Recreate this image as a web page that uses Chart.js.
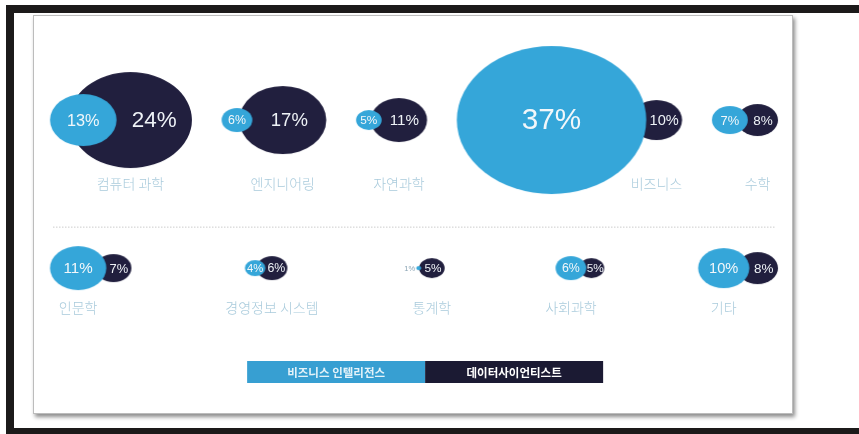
<!DOCTYPE html>
<html>
<head>
<meta charset="utf-8">
<script src="https://cdn.jsdelivr.net/npm/chart.js@4.4.1/dist/chart.umd.min.js"></script>
<style>
  html, body { margin: 0; background: #fff; }
  .bar { position: absolute; background: #1c1a1a; }
  #card {
    position: absolute; left: 33px; top: 15px; width: 760px; height: 399px;
    box-sizing: border-box; border: 1px solid #bcbcbc; background: #fff;
    box-shadow: 2px 3px 4px rgba(0,0,0,0.45);
  }
  #chart { position: absolute; left: 0; top: 0; }
</style>
</head>
<body>
<div class="bar" style="left:6px;top:5px;width:853px;height:8px"></div>
<div class="bar" style="left:6px;top:5px;width:8px;height:429px"></div>
<div class="bar" style="left:6px;top:428px;width:853px;height:6px"></div>
<div id="card"><canvas id="chart" width="758" height="397"></canvas></div>
<script>
// data
const categories = ["컴퓨터 과학", "엔지니어링", "자연과학", "비즈니스", "수학",
                    "인문학", "경영정보 시스템", "통계학", "사회과학", "기타"];
const rowOf = [0, 0, 0, 0, 0, 1, 1, 1, 1, 1];
const biValues = [13, 6, 5, 37, 7, 11, 4, 1, 6, 10];   // 비즈니스 인텔리전스
const dsValues = [24, 17, 11, 10, 8, 7, 6, 5, 5, 8];   // 데이터사이언티스트
const seriesNames = ["비즈니스 인텔리전스", "데이터사이언티스트"];

// look
const BI_COLOR = "#35a6d9";
const DS_COLOR = "#211f3e";
const LABEL_COLOR = "#a9cbdc";
const PCT_FONT = '"Liberation Sans", Arial, sans-serif';
const KR_FONT = '"Noto Sans CJK KR", sans-serif';
const LABEL_FONT = "300 14px " + KR_FONT;
const W = 758, H = 397;
const K = 2.0;          // px of vertical radius per percent
const ASPECT = 1.28;    // the bubbles are drawn a bit wider than tall
const ROW_LEFT = 16, ROW_RIGHT = 744;

const ry = v => v * K;
const rx = v => v * K * ASPECT;

// label offset below each row centre
const labelOffset = [0, 1].map(row => {
  const rs = [];
  categories.forEach((c, i) => { if (rowOf[i] === row) rs.push(ry(biValues[i]), ry(dsValues[i])); });
  rs.sort((a, b) => b - a);
  const top = rs[0] > 1.4 * rs[1] ? rs[1] : rs[0];
  return top * 0.9 + 20;
});

// the name goes under the larger bubble, unless that one reaches the name line
function labelUnderLight(i) {
  const b = ry(biValues[i]), d = ry(dsValues[i]);
  const tooTall = Math.max(b, d) > labelOffset[rowOf[i]] - 8;
  return (b >= d) !== tooTall;
}

const measure = document.createElement("canvas").getContext("2d");
measure.font = LABEL_FONT;

// pair geometry relative to the light bubble centre; dark one shifted right
function pairGeom(i) {
  const rxL = rx(biValues[i]), rxD = rx(dsValues[i]);
  const small = Math.min(rxL, rxD);
  const p = rxD > 1.3 * rxL ? Math.min(1.15 * small, 19) : 1.4 * small;
  const off = Math.abs(rxL - rxD) + p;
  const lx = labelUnderLight(i) ? 0 : off;
  const lw = measure.measureText(categories[i]).width / 2;
  return {
    off,
    left: Math.min(-rxL, off - rxD, lx - lw),
    right: Math.max(rxL, off + rxD, lx + lw)
  };
}

// pack each row with equal gaps
const biX = [], dsX = [];
[0, 1].forEach(row => {
  const idx = categories.map((c, i) => i).filter(i => rowOf[i] === row);
  const geoms = idx.map(pairGeom);
  const total = geoms.reduce((s, g) => s + g.right - g.left, 0);
  const gap = (ROW_RIGHT - ROW_LEFT - total) / (idx.length - 1);
  let cursor = ROW_LEFT;
  idx.forEach((i, k) => {
    const g = geoms[k];
    biX[i] = cursor - g.left;
    dsX[i] = biX[i] + g.off;
    cursor += g.right - g.left + gap;
  });
});

const biPoints = categories.map((c, i) => ({ x: biX[i], y: rowOf[i], r: ry(biValues[i]) }));
const dsPoints = categories.map((c, i) => ({ x: dsX[i], y: rowOf[i], r: ry(dsValues[i]) }));

const ellipseCache = {};
function ellipseStyle(ctx, color) {
  const p = ctx.raw;
  if (!p) return "circle";
  const key = color + p.r;
  if (!ellipseCache[key]) {
    const a = p.r * ASPECT, b = p.r;
    const c = document.createElement("canvas");
    c.width = Math.ceil(a * 2) + 2;
    c.height = Math.ceil(b * 2) + 2;
    const g = c.getContext("2d");
    g.fillStyle = color;
    g.beginPath();
    g.ellipse(c.width / 2, c.height / 2, a, b, 0, 0, Math.PI * 2);
    g.fill();
    ellipseCache[key] = c;
  }
  return ellipseCache[key];
}

const textPlugin = {
  id: "bubbleText",
  beforeDatasetsDraw(chart) {
    const ctx = chart.ctx;
    const y = chart.scales.y.getPixelForValue(0.72);
    ctx.save();
    ctx.strokeStyle = "#cdcdcd";
    ctx.lineWidth = 1;
    ctx.setLineDash([1.5, 1.5]);
    ctx.beginPath();
    ctx.moveTo(19, y + 0.5);
    ctx.lineTo(742, y + 0.5);
    ctx.stroke();
    ctx.restore();
  },
  afterDatasetsDraw(chart) {
    const ctx = chart.ctx;
    const m0 = chart.getDatasetMeta(0).data;
    const m1 = chart.getDatasetMeta(1).data;
    ctx.save();
    ctx.textBaseline = "middle";
    ctx.textAlign = "center";
    categories.forEach((name, i) => {
      const b = biValues[i], d = dsValues[i];
      const pb = m0[i], pd = m1[i];
      // dark bubble value, centred on its visible part
      const visL = Math.max(pb.x + rx(b), pd.x - rx(d));
      const visR = pd.x + rx(d);
      let fs = 9 + 0.28 * ry(d);
      ctx.font = fs + "px " + PCT_FONT;
      const tw = ctx.measureText(d + "%").width;
      if (tw > visR - visL) fs = Math.max(7, fs * (visR - visL) / tw);
      ctx.font = fs + "px " + PCT_FONT;
      ctx.fillStyle = "#eef2f6";
      ctx.fillText(d + "%", (visL + visR) / 2, pd.y + 1);
      // light bubble value
      fs = 9 + 0.28 * ry(b);
      if (rx(b) < 6) {
        ctx.font = "7.5px " + PCT_FONT;
        ctx.fillStyle = "#8aa4b4";
        ctx.textAlign = "right";
        ctx.fillText(b + "%", pb.x - rx(b) - 1, pb.y + 1);
        ctx.textAlign = "center";
      } else {
        ctx.font = fs + "px " + PCT_FONT;
        ctx.fillStyle = "#f2f7fa";
        ctx.fillText(b + "%", pb.x, pb.y + 1);
      }
      // category name
      const ax = labelUnderLight(i) ? pb.x : pd.x;
      ctx.font = LABEL_FONT;
      ctx.fillStyle = LABEL_COLOR;
      ctx.fillText(name, ax, pb.y + labelOffset[rowOf[i]]);
    });
    ctx.restore();
  },
  afterDraw(chart) {
    // legend: two joined colour boxes with the series names inside
    const ctx = chart.ctx;
    const bw = 178, bh = 22, top = 345;
    const left = W * 0.516 - bw;
    const fills = ["#379fd2", "#1b1a33"];
    const textColors = ["#e3f2f9", "#ffffff"];
    ctx.save();
    chart.data.datasets.forEach((ds, k) => {
      ctx.fillStyle = fills[k];
      ctx.fillRect(left + k * bw, top, bw, bh);
      ctx.font = "bold 11.5px " + KR_FONT;
      ctx.fillStyle = textColors[k];
      ctx.textAlign = "center";
      ctx.textBaseline = "middle";
      ctx.fillText(ds.label, left + k * bw + bw / 2, top + bh / 2 + 1);
    });
    ctx.restore();
  }
};

const chart = new Chart(document.getElementById("chart"), {
  type: "bubble",
  data: {
    datasets: [
      { label: seriesNames[0], data: biPoints, backgroundColor: BI_COLOR, borderWidth: 0,
        pointStyle: c => ellipseStyle(c, BI_COLOR) },
      { label: seriesNames[1], data: dsPoints, backgroundColor: DS_COLOR, borderWidth: 0,
        pointStyle: c => ellipseStyle(c, DS_COLOR) }
    ]
  },
  options: {
    responsive: false,
    animation: false,
    events: [],
    layout: { autoPadding: false, padding: 0 },
    plugins: { legend: { display: false }, tooltip: { enabled: false } },
    scales: {
      x: { type: "linear", min: 0, max: W, display: false },
      y: { type: "linear", min: -0.703, max: 1.979, reverse: true, display: false }
    }
  },
  plugins: [textPlugin]
});
</script>
</body>
</html>
